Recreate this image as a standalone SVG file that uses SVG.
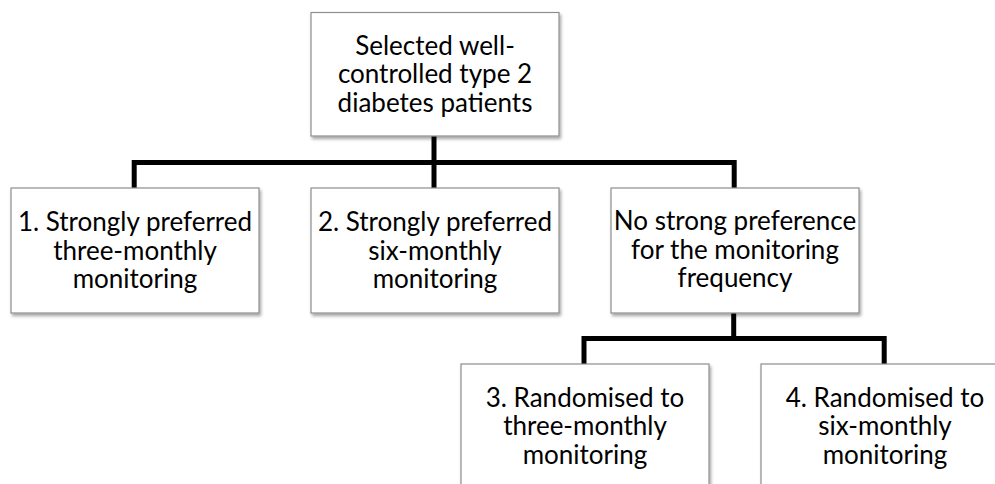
<svg xmlns="http://www.w3.org/2000/svg" width="995" height="484" viewBox="0 0 995 484">
<style>
.box{fill:#ffffff;stroke:#8e8e8e;stroke-width:1.2;filter:url(#sh)}
.t{font-family:Lato,"Open Sans","Liberation Sans",sans-serif;font-size:26px;fill:#000;text-anchor:middle}
.c{fill:none;stroke:#000;stroke-width:5;stroke-linejoin:miter;stroke-linecap:butt}
</style>
<defs>
<filter id="sh" x="-10%" y="-10%" width="125%" height="130%">
<feDropShadow dx="1.5" dy="2.5" stdDeviation="1.6" flood-color="#000" flood-opacity="0.35"/>
</filter>
</defs>
<rect width="995" height="484" fill="#ffffff"/>
<g id="connectors">
<path class="c" d="M434,136 V188"/>
<path class="c" d="M134.2,188 V162.5 H734.2 V188"/>
<path class="c" d="M733.7,313 V338.5"/>
<path class="c" d="M584,364 V338.5 H884.2 V364"/>
</g>
<g id="n0">
<rect class="box" x="311" y="12.5" width="248" height="123.5"/>
<text class="t" x="435" y="54.5">Selected well-</text>
<text class="t" x="435" y="83">controlled type 2</text>
<text class="t" x="435" y="111.5">diabetes patients</text>
</g>
<g id="n1">
<rect class="box" x="11" y="188" width="248" height="125"/>
<text class="t" x="135" y="231">1. Strongly preferred</text>
<text class="t" x="135" y="259.5">three-monthly</text>
<text class="t" x="135" y="288">monitoring</text>
</g>
<g id="n2">
<rect class="box" x="311" y="188" width="248" height="125"/>
<text class="t" x="435" y="231">2. Strongly preferred</text>
<text class="t" x="435" y="259.5">six-monthly</text>
<text class="t" x="435" y="288">monitoring</text>
</g>
<g id="n3">
<rect class="box" x="611" y="188" width="248" height="125"/>
<text class="t" x="735" y="230">No strong preference</text>
<text class="t" x="735" y="258.5">for the monitoring</text>
<text class="t" x="735" y="287">frequency</text>
</g>
<g id="n4">
<rect class="box" x="461" y="364" width="248" height="125"/>
<text class="t" x="585" y="406.5">3. Randomised to</text>
<text class="t" x="585" y="435">three-monthly</text>
<text class="t" x="585" y="463.5">monitoring</text>
</g>
<g id="n5">
<rect class="box" x="761" y="364" width="248" height="125"/>
<text class="t" x="885" y="406.5">4. Randomised to</text>
<text class="t" x="885" y="435">six-monthly</text>
<text class="t" x="885" y="463.5">monitoring</text>
</g>
</svg>
